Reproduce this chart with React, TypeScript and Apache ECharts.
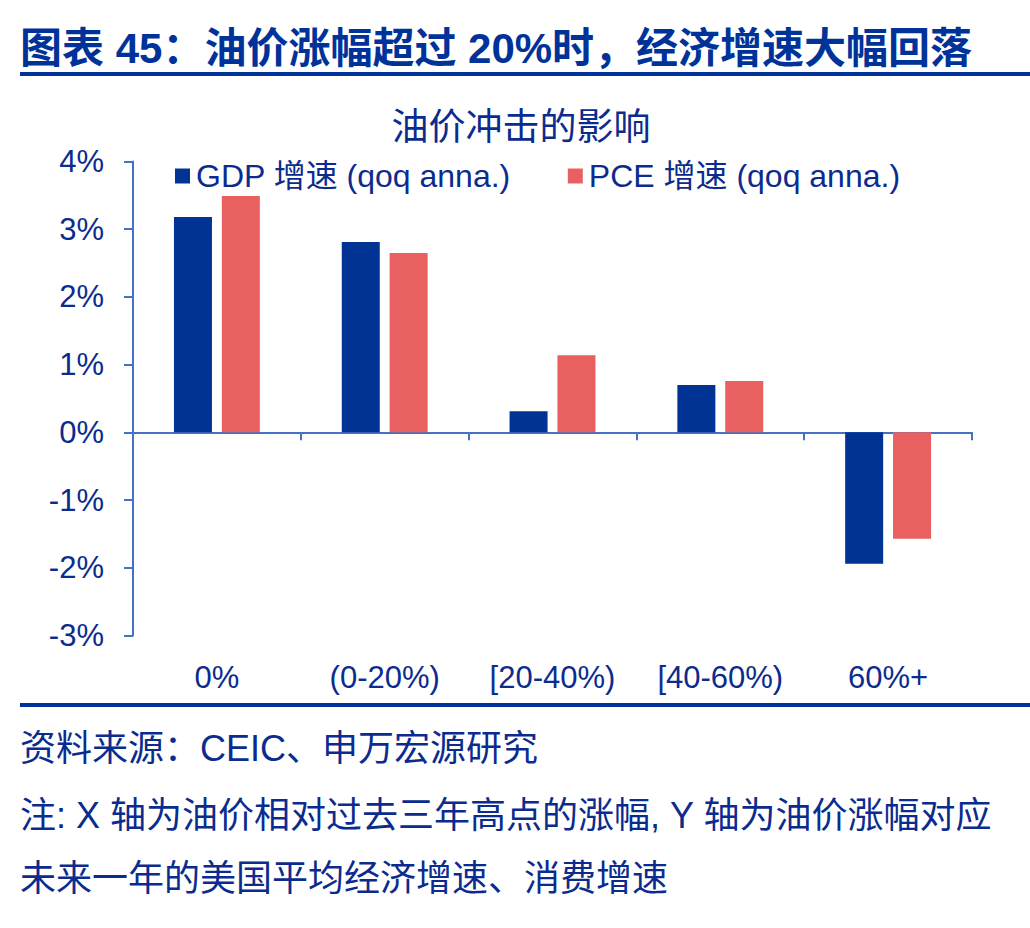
import React, { useEffect, useRef } from "react";
import * as echarts from "echarts";

const categories = ["0%", "(0-20%)", "[20-40%)", "[40-60%)", "60%+"];
const gdpGrowth = [3.18, 2.81, 0.31, 0.7, -1.94];
const pceGrowth = [3.49, 2.65, 1.14, 0.76, -1.57];
const seriesNames = ["GDP 增速 (qoq anna.)", "PCE 增速 (qoq anna.)"];
const headline = "图表 45：油价涨幅超过 20%时，经济增速大幅回落";
const chartTitle = "油价冲击的影响";
const footLines = [
  "资料来源：CEIC、申万宏源研究",
  "注: X 轴为油价相对过去三年高点的涨幅, Y 轴为油价涨幅对应",
  "未来一年的美国平均经济增速、消费增速",
];

const FONT = "'Liberation Sans', Arial, 'Noto Sans CJK SC', sans-serif";
const TEXT_BLUE = "#0B2C8E";
const HEAD_BLUE = "#00339A";
const AXIS_BLUE = "#4472C4";

export default function App() {
  const ref = useRef<HTMLDivElement>(null);
  useEffect(() => {
    document.body.style.margin = "0";
    const chart = echarts.init(ref.current!, null, { renderer: "svg" });
    chart.setOption({
      animation: false,
      backgroundColor: "#ffffff",
      textStyle: { fontFamily: FONT },
      graphic: [
        {
          type: "text",
          left: 20,
          top: 27,
          style: { text: headline, font: `bold 42px ${FONT}`, fill: HEAD_BLUE },
        },
        { type: "rect", shape: { x: 20, y: 72, width: 1010, height: 4 }, style: { fill: HEAD_BLUE } },
        { type: "rect", shape: { x: 20, y: 703, width: 1010, height: 4 }, style: { fill: HEAD_BLUE } },
        ...footLines.map((t, i) => ({
          type: "text",
          left: 20,
          top: [730, 797, 860][i],
          style: { text: t, font: `36px ${FONT}`, fill: TEXT_BLUE },
        })),
      ],
      title: {
        text: chartTitle,
        left: 516,
        textAlign: "center",
        top: 104,
        textStyle: { fontSize: 37, fontWeight: "normal", color: TEXT_BLUE, fontFamily: FONT },
      },
      legend: {
        data: seriesNames,
        left: 170,
        top: 155,
        itemWidth: 15,
        itemHeight: 15,
        itemGap: 57,
        icon: "rect",
        textStyle: { fontSize: 32, color: TEXT_BLUE, fontFamily: FONT, padding: [0, 0, 0, 1] },
      },
      grid: { left: 133, right: 58, top: 161.5, bottom: 928 - 635.5, containLabel: false },
      xAxis: [
        {
          type: "category",
          data: categories,
          axisLine: { onZero: true, lineStyle: { color: AXIS_BLUE, width: 2 } },
          axisTick: { show: true, length: 8, lineStyle: { color: AXIS_BLUE, width: 2 } },
          axisLabel: { show: false },
          splitLine: { show: false },
        },
        {
          type: "category",
          data: categories,
          position: "bottom",
          axisLine: { show: false, onZero: false },
          axisTick: { show: false },
          axisLabel: { fontSize: 31, color: TEXT_BLUE, fontFamily: FONT, margin: 26 },
          splitLine: { show: false },
        },
      ],
      yAxis: {
        type: "value",
        min: -3,
        max: 4,
        interval: 1,
        axisLine: { show: true, lineStyle: { color: AXIS_BLUE, width: 2 } },
        axisTick: { show: true, length: 9, lineStyle: { color: AXIS_BLUE, width: 2 } },
        axisLabel: { fontSize: 31, color: TEXT_BLUE, fontFamily: FONT, margin: 29, formatter: "{value}%" },
        splitLine: { show: false },
      },
      series: [
        {
          name: seriesNames[0],
          type: "bar",
          xAxisIndex: 0,
          data: gdpGrowth,
          barWidth: 38,
          barGap: "26%",
          itemStyle: { color: "#003394" },
        },
        {
          name: seriesNames[1],
          type: "bar",
          xAxisIndex: 0,
          data: pceGrowth,
          barWidth: 38,
          barGap: "26%",
          itemStyle: { color: "#E86060" },
        },
      ],
    });
    return () => chart.dispose();
  }, []);
  return <div ref={ref} style={{ width: 1030, height: 928 }} />;
}
